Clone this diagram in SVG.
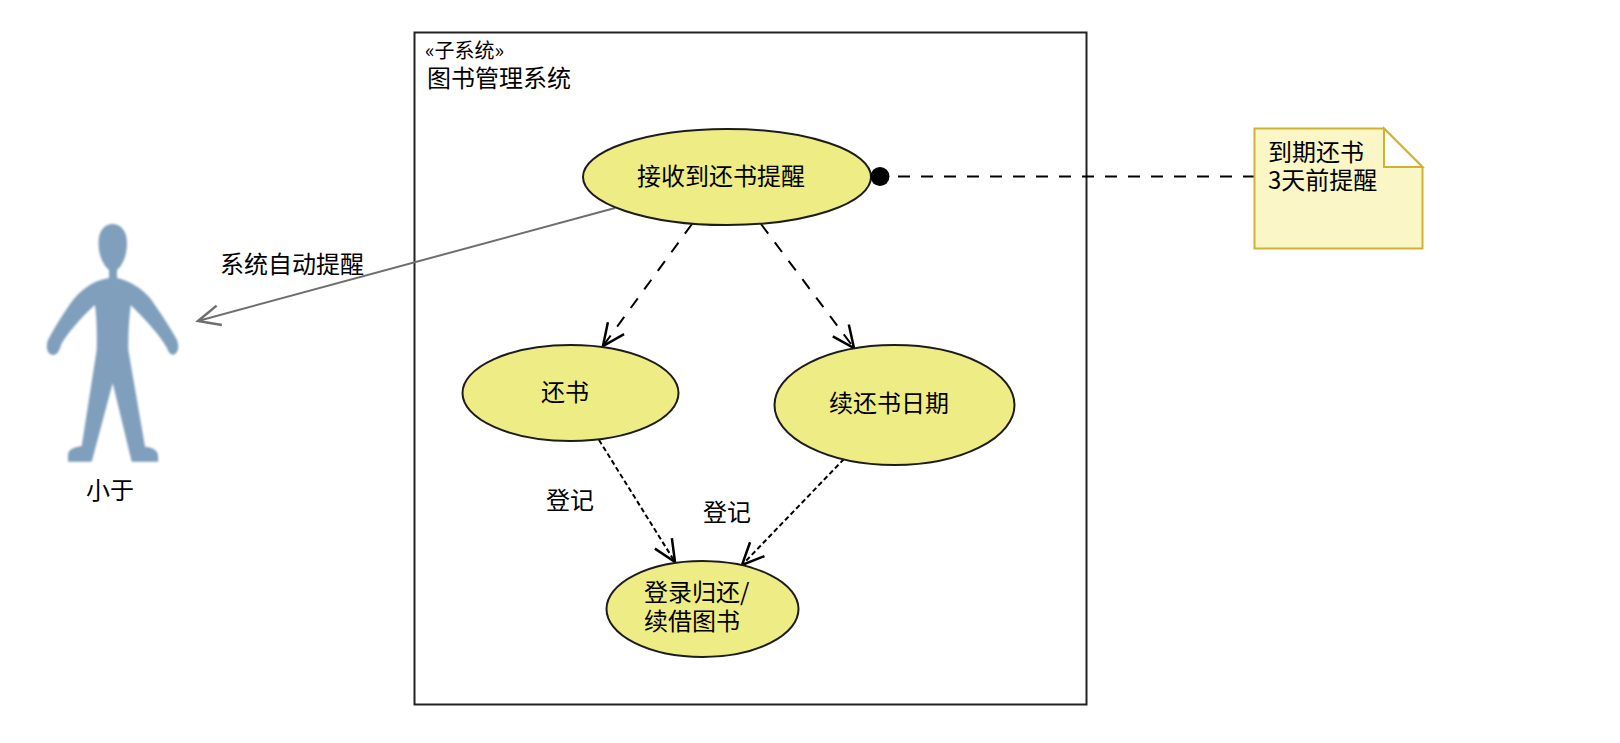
<svg xmlns="http://www.w3.org/2000/svg" width="1620" height="743" viewBox="0 0 1620 743">
<style>
text{font-family:"Noto Sans CJK SC","Liberation Sans",sans-serif;font-size:24px;fill:#000}
.uc{fill:#eeec84;stroke:#1c1c1c;stroke-width:2}
.dash{fill:none;stroke:#000;stroke-width:2;stroke-dasharray:12 11}
.dash2{fill:none;stroke:#000;stroke-width:2;stroke-dasharray:5 3}
</style>
<defs>
<filter id="soft" x="-10%" y="-10%" width="120%" height="120%"><feGaussianBlur stdDeviation="1.2"/></filter>
<marker id="open" markerUnits="userSpaceOnUse" markerWidth="30" markerHeight="30" refX="25" refY="15" orient="auto"><path d="M3,5 L25,15 L3,25" fill="none" stroke="#000" stroke-width="2.5"/></marker>
<marker id="openGray" markerUnits="userSpaceOnUse" markerWidth="30" markerHeight="30" refX="25" refY="15" orient="auto"><path d="M3,5 L25,15 L3,25" fill="none" stroke="#6e6e6e" stroke-width="2.5"/></marker>
</defs>
<rect width="1620" height="743" fill="#fff"/>
<g id="subsystem">
<rect x="414.5" y="32.5" width="672" height="672" fill="#fff" stroke="#222" stroke-width="2"/>
<text x="425" y="58" style="font-size:20px">«子系统»</text>
<text x="427" y="87">图书管理系统</text>
</g>
<g id="connectors">
<line x1="615" y1="208" x2="198" y2="321" stroke="#6e6e6e" stroke-width="2" marker-end="url(#openGray)"/>
<line class="dash" x1="692" y1="224" x2="603" y2="346" marker-end="url(#open)"/>
<line class="dash" x1="761" y1="224" x2="854" y2="348" marker-end="url(#open)"/>
<line class="dash2" x1="599" y1="440" x2="675" y2="562" marker-end="url(#open)"/>
<line class="dash2" x1="844" y1="459" x2="742" y2="565" marker-end="url(#open)"/>
<line class="dash" x1="898" y1="176.5" x2="1254" y2="176.5"/>
</g>
<g id="actor">
<g fill="#7f9fbc" filter="url(#soft)">
<path d="M112.7,224C105,224 98.5,230 98.5,243C98.5,255 103,265 109,270L109,278C92,281 80,290 70,304C62,316 54,328 48,340C45,348 48,355 53,355C57,355 60,350 61,345C66,335 84,314 95,305C97,320 97,335 96.7,350L81.7,446C75,447 68,449 68,455L68,461.7L91.7,461.7L112.7,383L131.7,461.7L158.3,461.7L158,455C157,449 150,447 145,446.7L128.3,350C128,335 129,320 130.7,305C142,316 160,335 167,348C169,354 172,356 175,354C179,351 179,346 177,340C170,327 160,312 150,298C141,288 130,281 117,278L117,270C123,265 127,255 127,243C127,230 120,224 112.7,224Z"/>
</g>
<text x="86" y="499">小于</text>
</g>
<g id="label-auto"><text x="220" y="273">系统自动提醒</text></g>
<g id="uc-remind">
<ellipse class="uc" cx="727" cy="177" rx="144" ry="48"/>
<text x="637" y="185">接收到还书提醒</text>
</g>
<circle id="note-anchor" cx="880" cy="176.5" r="9.5" fill="#000"/>
<g id="uc-return">
<ellipse class="uc" cx="570.5" cy="393" rx="108" ry="48"/>
<text x="541" y="401">还书</text>
</g>
<g id="uc-renew">
<ellipse class="uc" cx="894.5" cy="405" rx="120" ry="60"/>
<text x="829" y="412">续还书日期</text>
</g>
<g id="uc-log">
<ellipse class="uc" cx="702.5" cy="609" rx="96" ry="48"/>
<text x="644" y="601">登录归还/</text>
<text x="644" y="630">续借图书</text>
</g>
<g id="label-reg1"><text x="546" y="509">登记</text></g>
<g id="label-reg2"><text x="703" y="521">登记</text></g>
<g id="note">
<path d="M1254.5,128.5H1384L1422.5,167V248.5H1254.5Z" fill="#fbf6c5" stroke="#cfb22f" stroke-width="2"/>
<path d="M1384,128.5V167H1422.5Z" fill="#fff" stroke="#cfb22f" stroke-width="2"/>
<text x="1268" y="161">到期还书</text>
<text x="1268" y="189">3天前提醒</text>
</g>
</svg>
